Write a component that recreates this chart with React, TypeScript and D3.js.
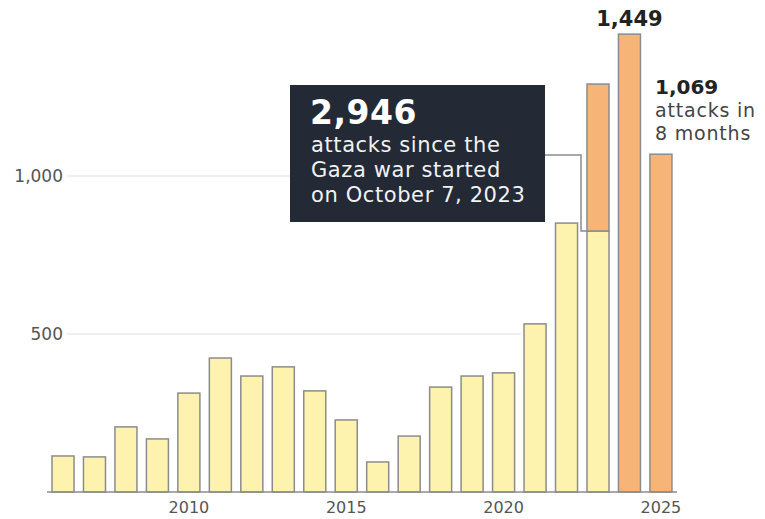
import React from "react";
import * as d3 from "d3";

const years = [2006, 2007, 2008, 2009, 2010, 2011, 2012, 2013, 2014, 2015, 2016, 2017, 2018, 2019, 2020, 2021, 2022, 2023, 2024, 2025];
const beforeWar = [114, 111, 206, 168, 313, 424, 367, 396, 320, 228, 95, 177, 332, 367, 377, 532, 851, 826, 0, 0];
const sinceWar = [0, 0, 0, 0, 0, 0, 0, 0, 0, 0, 0, 0, 0, 0, 0, 0, 0, 465, 1449, 1069];
const yTicks = [500, 1000];
const xTickYears = [2010, 2015, 2020, 2025];

const W = 765;
const H = 519;
const FONT = "'DejaVu Sans', sans-serif";

export default function App() {
  const x = d3.scaleBand<number>().domain(years).range([47.27, 676.67]).paddingInner(0.3).paddingOuter(0.15);
  const y = d3.scaleLinear().domain([0, 1000]).range([492, 176]);
  const bw = x.bandwidth();
  const stroke = "#8c8c8c";
  const i2023 = years.indexOf(2023);
  const divY = y(beforeWar[i2023]);
  const x2023 = x(2023)!;

  return (
    <svg width={W} height={H} style={{ position: "absolute", left: 0, top: 0, background: "#fff" }} fontFamily={FONT}>
      {/* gridlines */}
      <line x1={67} x2={290} y1={y(1000)} y2={y(1000)} stroke="#efefef" strokeWidth={2} />
      <line x1={67} x2={x(2021)! - 3} y1={y(500)} y2={y(500)} stroke="#efefef" strokeWidth={2} />
      {yTicks.map((t) => (
        <text key={t} x={63} y={y(t)} dy="0.35em" textAnchor="end" fontSize={17} fill="#555">
          {d3.format(",")(t)}
        </text>
      ))}
      {/* bars */}
      {years.map((yr, i) => {
        const b = beforeWar[i];
        const s = sinceWar[i];
        const bx = x(yr)!;
        return (
          <g key={yr}>
            {b > 0 && (
              <rect x={bx} y={y(b)} width={bw} height={y(0) - y(b)} fill="#fdf2ae" stroke={stroke} strokeWidth={1.5} />
            )}
            {s > 0 && (
              <rect x={bx} y={y(b + s)} width={bw} height={y(b) - y(b + s)} fill="#f6b577" stroke={stroke} strokeWidth={1.5} />
            )}
          </g>
        );
      })}
      {/* baseline */}
      <line x1={47} x2={677} y1={y(0)} y2={y(0)} stroke="#8c8c8c" strokeWidth={1.5} />
      {xTickYears.map((t) => (
        <text key={t} x={x(t)! + bw / 2} y={513} textAnchor="middle" fontSize={16} fill="#555">
          {t}
        </text>
      ))}
      {/* connector */}
      <polyline
        points={`545,155 581,155 581,${divY} ${x2023},${divY}`}
        fill="none"
        stroke="#8c8c8c"
        strokeWidth={1.5}
      />
      {/* annotation box */}
      <rect x={290} y={85} width={255} height={137} fill="#232a35" />
      <text x={310} y={124} fontSize={33} fontWeight="bold" fill="#fff" letterSpacing={0.5}>2,946</text>
      <text x={311} y={152} fontSize={21} fill="#f2f2f2" letterSpacing={0.6}>attacks since the</text>
      <text x={311} y={177} fontSize={21} fill="#f2f2f2" letterSpacing={0.6}>Gaza war started</text>
      <text x={311} y={202} fontSize={21} fill="#f2f2f2" letterSpacing={0.6}>on October 7, 2023</text>
      {/* top labels */}
      <text x={x(2024)! + bw / 2} y={26} textAnchor="middle" fontSize={21} fontWeight="bold" fill="#222">
        {d3.format(",")(sinceWar[years.indexOf(2024)])}
      </text>
      <text x={655} y={94} fontSize={20} fontWeight="bold" fill="#222">
        {d3.format(",")(sinceWar[years.indexOf(2025)])}
      </text>
      <text x={655} y={117} fontSize={19} fill="#444" letterSpacing={0.8}>attacks in</text>
      <text x={655} y={140} fontSize={19} fill="#444" letterSpacing={0.8}>8 months</text>
    </svg>
  );
}
